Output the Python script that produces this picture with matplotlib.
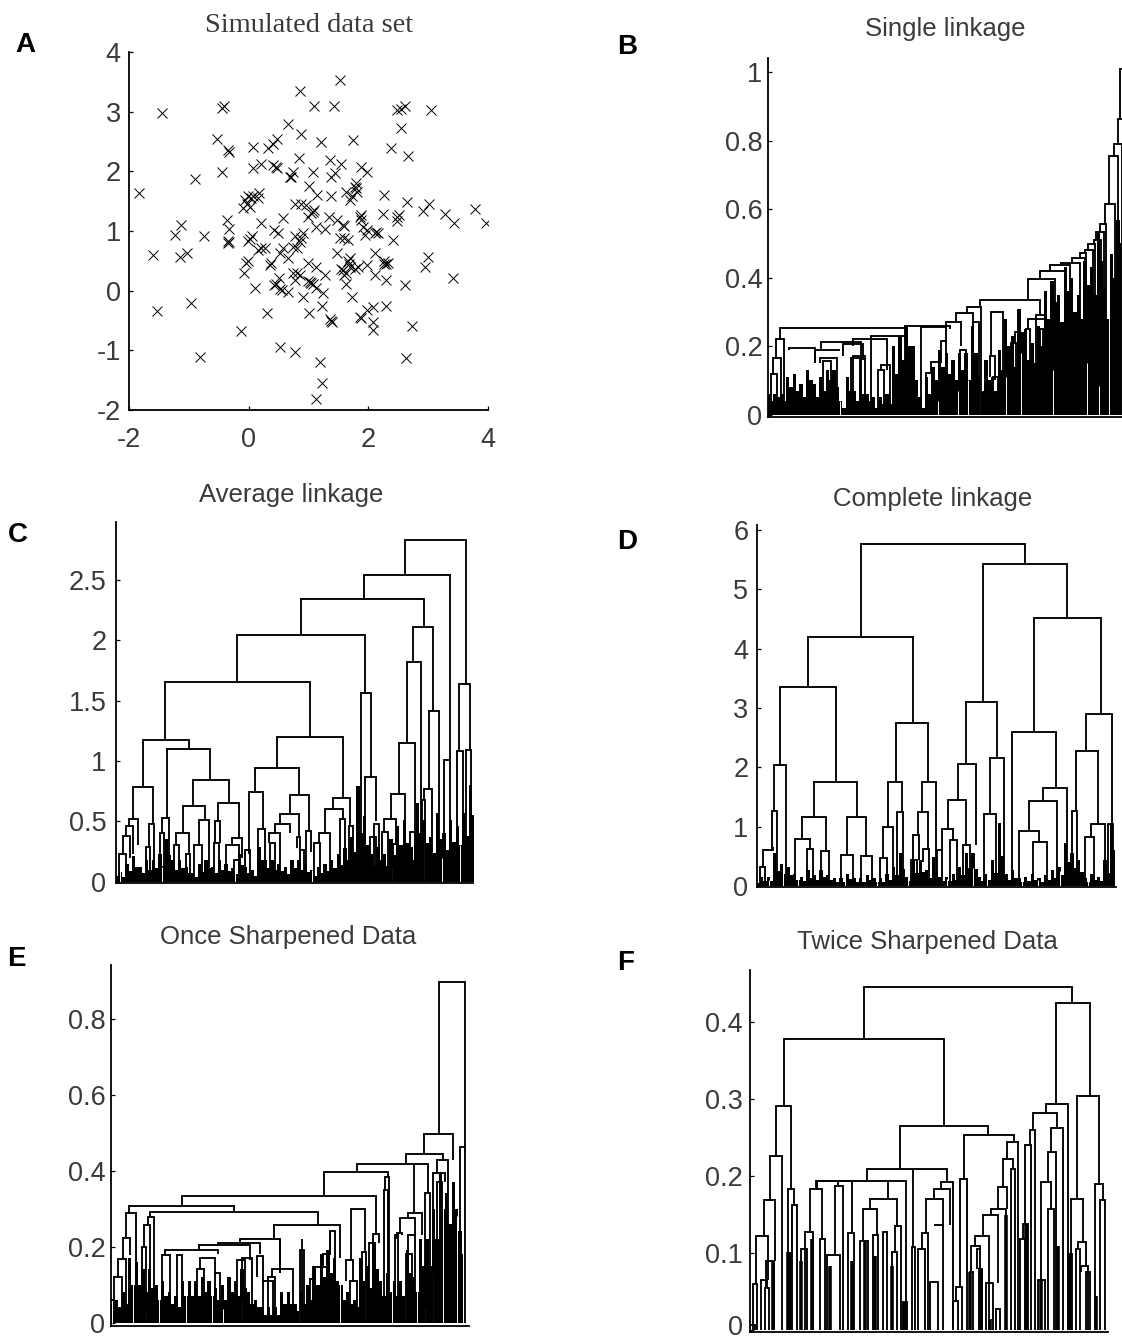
import numpy as np
import matplotlib
matplotlib.use("Agg")
import matplotlib.pyplot as plt
from matplotlib.transforms import ScaledTranslation

plt.rcParams['font.family'] = ['Liberation Sans', 'DejaVu Sans']
W, H = 1122, 1339

# ---------- Panel A : simulated data ----------
pts_x = [-1.83,-1.45,-1.60,-1.54,-1.23,-1.13,-1.14,-1.03,-0.75,-0.97,-0.89,-0.81,-0.53,-0.45,-0.44,-0.42,-0.35,-0.33,-0.36,-0.33,
 -0.35,-0.33,-0.34,-0.13,-0.07,-0.01,-0.04,-0.09,-0.06,-0.01,0.04,-0.03,0.02,0.08,0.17,0.16,0.07,0.08,0.21,0.21,
 0.02,0.06,-0.01,0.10,0.16,0.21,0.27,0.30,0.32,0.40,0.48,0.41,0.45,0.47,0.35,0.38,0.43,0.49,0.57,0.43,
 0.50,0.46,0.55,0.53,0.66,0.53,0.77,0.66,0.88,0.85,0.84,0.74,0.69,0.71,0.77,0.88,0.52,0.57,0.66,0.74,
 0.80,0.85,0.91,0.77,0.88,0.74,0.80,0.85,0.77,0.91,1.00,1.09,1.08,1.01,1.14,0.96,1.08,1.10,1.05,0.99,
 1.13,1.27,0.99,1.13,1.02,1.05,0.99,1.08,1.13,1.25,1.28,1.23,1.38,1.36,1.40,1.19,1.23,1.13,1.21,1.42,
 1.52,1.36,1.38,1.45,1.38,1.55,1.75,1.62,1.69,1.72,1.80,1.77,1.80,1.81,1.35,1.48,1.58,1.59,1.52,1.66,
 1.60,1.47,1.55,1.66,1.69,1.68,1.69,1.58,1.63,1.77,1.63,1.60,1.72,1.83,1.97,1.86,1.88,1.88,1.97,1.86,
 1.88,1.87,1.91,1.97,1.94,2.16,2.13,2.11,2.11,2.11,2.07,1.97,2.08,2.08,2.27,2.25,2.41,2.27,2.30,2.26,
 2.33,2.30,2.30,2.38,2.48,2.55,2.62,2.55,2.66,2.48,2.51,2.48,2.65,2.61,2.73,2.63,2.91,3.01,3.05,2.94,
 3.00,3.28,3.43,3.41,3.78,3.96]
pts_y = [1.64,2.97,0.60,-0.34,0.93,1.10,0.57,0.63,0.92,-0.21,1.87,-1.11,2.54,1.99,3.06,3.10,2.35,2.33,1.18,1.03,
 0.83,0.82,0.80,-0.68,0.29,0.49,0.46,1.38,1.52,1.58,1.55,1.46,1.41,1.59,1.63,1.55,2.40,2.06,2.13,1.14,
 0.86,0.91,0.84,0.04,0.68,0.71,0.71,-0.38,2.39,2.46,2.55,2.11,2.08,2.05,0.43,0.47,1.02,0.97,1.21,0.09,
 0.21,0.11,0.01,0.02,-0.02,-0.94,-1.02,2.79,2.62,3.34,2.23,1.99,1.91,1.90,1.46,1.46,0.63,0.71,0.54,0.74,
 0.71,0.82,0.97,0.91,0.88,0.29,0.29,0.26,0.18,-0.11,-0.38,3.09,1.99,1.76,1.61,1.44,1.32,1.35,1.30,1.24,
 1.07,1.04,0.46,0.40,0.15,0.13,0.17,0.12,0.04,-0.04,0.26,-0.25,-0.50,-0.48,-0.52,-1.19,-1.55,-1.82,2.49,3.09,
 3.53,2.19,1.91,1.98,1.59,2.12,2.53,1.66,1.52,1.58,1.80,1.74,1.72,1.66,1.24,1.18,1.10,1.08,0.88,0.85,
 0.88,0.63,0.37,0.49,0.54,0.45,0.40,0.35,0.29,0.37,0.12,0.26,-0.11,0.40,0.43,-0.44,-0.45,2.08,1.99,1.24,
 1.27,1.18,1.07,1.02,0.93,0.96,0.99,0.96,0.63,0.26,-0.27,-0.32,-0.52,-0.66,1.60,1.28,0.85,0.49,0.45,0.45,
 0.46,0.18,-0.25,2.39,3.03,3.05,3.09,2.72,2.25,1.24,1.27,1.16,1.48,0.09,-0.59,-1.13,1.34,1.45,3.02,0.40,
 0.57,1.28,1.14,0.21,1.37,1.14]

# ---------- Panel B : single linkage ----------
b_xl = [1112,1105,1093,1078,1065,1052,1040,1033,1015,1005,990,967,935,900,870,835,690,653,620,588,465,90,80,70,65,
        365,310,215,118,195,210,220,280,310,305,395,385,515,545,530,575,725,720,730,760,785,795,835,858,830,870,858,670,630]
b_xr = [1130,1130,1118,1105,1095,1070,1062,1055,1035,1030,1010,1005,990,960,945,915,870,695,670,635,600,465,103,93,82,
        465,412,335,195,272,262,245,340,345,330,420,402,590,570,550,590,760,737,745,770,800,810,890,885,840,880,868,688,650]
b_h  = [1.01,.865,.79,.757,.615,.556,.534,.51,.498,.48,.473,.459,.443,.437,.42,.396,.336,.315,.297,.27,.26,.253,.222,.164,.12,
        .231,.222,.212,.196,.19,.166,.158,.205,.17,.166,.146,.13,.256,.155,.122,.215,.30,.17,.11,.183,.21,.24,.278,.29,.25,.25,.20,.27,.19]
b_yl = [.865,.79,.757,.615,.556,.534,.51,.498,.48,.473,.459,.443,.437,.42,.396,.336,.315,.297,.27,.26,.253,.222,.164,.12,.06,
        .15,.20,.19,.19,.15,.15,.10,.17,.12,.10,.13,.07,.15,.122,.08,.15,.17,.11,.07,.12,.12,.21,.25,.20,.10,.10,.08,.20,.12]
b_yr = [.60,.50,.50,.40,.35,.40,.40,.30,.40,.30,.35,.30,.30,.25,.30,.30,.29,.25,.25,.20,.25,.222,.10,.06,.07,
        .20,.13,.14,.15,.19,.13,.12,.16,.10,.12,.08,.10,.21,.12,.08,.20,.18,.10,.08,.12,.18,.12,.20,.25,.15,.18,.10,.12,.10]
b_mass = [.06,.06,.06,.11,.12,.09,.13,.09,.11,.13,.13,.04,.11,.07,.10,.06,.05,.05,.06,.20,.23,.26,.20,.05,.11,.14,.19,.18,.16,.18,
          .18,.26,.11,.16,.11,.19,.28,.23,.31,.25,.21,.26,.36,.39,.35,.43,.40,.35,.45,.43,.53,.37,.47,.57]
b_low = [.04,.05,.04,.08,.07,.05,.10,.05,.07,.10,.08,.02,.07,.04,.06,.04,.02,.03,.03,.12,.16,.20,.10,.02,.06,.10,.14,.12,.10,.13,
         .10,.18,.07,.10,.07,.13,.20,.14,.24,.16,.15,.20,.28,.33,.27,.36,.30,.28,.38,.35,.45,.28,.40,.50]
b_slit_x = [270,565,625,655,690,770,815,910,1013,1048,1078]
b_slit_y = [.04,.04,.07,.10,.16,.11,.18,.13,.15,.085,.37]

# ---------- Panel C : average linkage ----------
c_xl = [915,790,603,410,195,128,200,97,278,247,353,530,463,445,570,540,697,675,783,793,938,920,897,872,985,972,1075,1070,1098,1032,
        85,78,67,55,145,137,185,180,228,222,258,282,295,345,342,378,395,400,435,472,505,510,525,590,617,600,655,642,720,745,820,810,852,845,878,928,965]
c_xr = [1097,1048,970,795,628,266,330,157,385,315,415,728,595,488,625,595,750,728,812,828,998,963,943,913,1015,995,1108,1088,1112,1050,
        113,97,90,78,160,150,205,192,265,235,270,305,325,360,355,415,425,415,450,493,540,525,570,600,632,612,690,660,735,758,835,828,888,862,890,945,975]
c_h  = [2.83,2.54,2.34,2.04,1.65,1.17,1.10,.78,.84,.63,.65,1.20,.94,.74,.72,.56,.69,.60,1.56,.87,2.11,1.82,1.15,.73,1.41,.77,1.64,1.08,1.09,1.01,
        .52,.46,.38,.23,.48,.29,.53,.40,.40,.30,.23,.30,.51,.50,.32,.30,.36,.18,.26,.44,.40,.32,.48,.37,.42,.26,.40,.32,.52,.46,.48,.37,.52,.41,.31,.41,.68]
c_yl = [2.54,2.34,2.04,1.65,1.17,.78,.53,.52,.63,.40,.50,.94,.74,.23,.56,.48,.60,.40,.79,.30,1.82,1.15,.73,.52,.77,.68,1.08,.46,.57,.57,
        .46,.38,.23,.15,.29,.12,.41,.15,.30,.15,.12,.10,.30,.32,.22,.12,.30,.08,.10,.30,.32,.15,.40,.28,.15,.12,.32,.10,.10,.15,.28,.25,.41,.10,.10,.18,.30]
c_yr = [1.64,1.01,2.11,1.56,1.20,1.10,.84,.48,.65,.51,.36,.69,.72,.44,.43,.36,.46,.52,.87,.50,1.41,.30,.86,.65,.57,.50,1.09,.58,.80,.54,
        .30,.23,.20,.12,.25,.20,.20,.25,.23,.12,.10,.15,.15,.32,.15,.15,.20,.05,.19,.20,.25,.20,.40,.12,.25,.15,.15,.15,.30,.30,.30,.15,.30,.20,.18,.25,.40]
c_mass = [.08,.08,.15,.21,.12,.18,.18,.23,.35,.18,.18,.12,.07,.15,.18,.12,.18,.15,.11,.23,.12,.10,.29,.18,.18,.15,.12,.18,.18,.15,
          .10,.12,.15,.18,.23,.28,.37,.79,.54,.23,.29,.23,.35,.46,.51,.29,.65,.51,.37,.57,.40,.51,.46,.57,.80]
c_low = [.05,.04,.09,.12,.07,.10,.11,.13,.22,.10,.11,.07,.04,.08,.11,.07,.10,.09,.06,.14,.07,.05,.18,.11,.10,.09,.06,.11,.10,.08,
         .05,.07,.09,.11,.14,.18,.25,.40,.30,.14,.18,.13,.22,.30,.32,.18,.40,.32,.24,.35,.26,.33,.30,.38,.55]
c_slit_x = [60,135,185,280,405,595,635,875,970,1025,1078]
c_slit_y = [.10,.12,.12,.10,.12,.10,.10,.12,.35,.20,.30]

# ---------- Panel D : complete linkage ----------
d_xl = [363,728,205,120,102,95,222,185,322,165,243,303,362,468,443,545,430,472,533,520,550,678,653,623,605,630,750,732,882,815,910,868,838,880,1038,1008,995,1053,1035,1105,668,70,60,200,592,513,420]
d_xr = [855,980,518,288,137,112,352,257,377,210,268,340,395,563,485,587,460,490,563,538,568,770,708,677,640,652,792,768,1082,948,982,950,898,920,1115,1073,1012,1095,1062,1118,690,100,75,218,606,530,442]
d_h  = [5.76,5.42,4.19,3.35,2.04,1.26,1.76,1.17,1.16,.79,.59,.52,.51,2.74,1.76,1.75,.99,1.25,1.25,.86,.63,3.10,2.06,1.45,.97,.78,2.15,1.21,4.51,2.59,1.65,1.44,.93,.74,2.89,2.28,1.27,1.04,.83,1.04,.69,.60,.33,.63,.61,.44,.48]
d_yl = [4.19,3.10,3.35,2.04,1.26,.63,1.17,.79,.52,.33,.27,.45,.30,1.76,.99,1.25,.48,.33,.86,.44,.40,2.06,1.45,.97,.61,.38,1.21,.41,2.59,1.04,1.44,.93,.27,.47,2.28,1.27,.66,.83,.44,.55,.30,.33,.15,.35,.20,.15,.20]
d_yr = [5.42,4.51,2.74,1.76,.89,.30,1.16,.59,.51,.63,.35,.25,.30,1.75,1.25,.38,.33,.63,.61,.44,.45,2.15,.69,.69,.78,.27,.75,.75,2.89,1.65,.38,.60,.74,.30,1.04,1.04,.55,.44,.27,.55,.35,.66,.15,.30,.25,.20,.20]
d_mass = [.10,.16,.16,.55,.38,.33,.21,.16,.27,.19,.27,.19,.13,.13,.21,.13,.13,.19,.13,.13,.21,.33,.55,.16,.44,.44,.27,.49,.16,.16,
          .21,.33,.55,.55,.16,.21,.44,1.06,.21,.27,.13,.16,.21,.13,.19,.27,.33,.72,.55,.44,.13,.21,.16,.44,1.06]
d_low = [.06,.09,.09,.25,.20,.18,.11,.08,.14,.10,.15,.10,.07,.07,.12,.07,.07,.10,.07,.07,.11,.18,.28,.08,.22,.24,.14,.26,.08,.08,
         .11,.18,.30,.28,.08,.11,.22,.50,.11,.14,.07,.08,.11,.07,.10,.14,.18,.40,.30,.24,.07,.11,.08,.22,.60]
d_slit_x = [88,130,175,315,410,505,620,700,740,845,895,960,1045]
d_slit_y = [.10,.25,.12,.12,.10,.20,.12,.30,.25,.12,.10,.25,.15]

# ---------- Panel E : once sharpened ----------
e_xl = [1016,972,918,770,673,245,752,88,78,68,53,42,30,150,145,133,125,522,420,355,298,195,185,232,300,290,345,410,425,472,515,505,490,600,630,640,670,690,737,750,785,820,808,855,852,925,900,890,885,925,918,975,1012,1000,1010,1080]
e_xr = [1095,1058,1028,985,865,828,795,403,108,90,77,65,42,655,162,150,138,720,540,480,450,355,210,245,345,312,360,435,455,490,580,525,520,612,640,680,690,705,760,770,797,838,825,868,865,965,945,905,895,945,935,990,1045,1035,1025,1095]
e_h  = [.895,.496,.444,.418,.397,.332,.30,.308,.288,.222,.168,.121,.06,.292,.277,.257,.20,.257,.219,.209,.203,.191,.178,.178,.17,.14,.13,.165,.17,.175,.14,.12,.11,.19,.115,.145,.18,.24,.165,.11,.185,.232,.21,.384,.35,.288,.275,.235,.23,.23,.18,.34,.428,.393,.37,.463]
e_yl = [.496,.444,.418,.397,.332,.308,.165,.288,.222,.168,.121,.06,0,.277,.257,.20,.11,.219,.209,.203,.191,.178,.11,.10,.14,.09,.09,.12,.12,.12,.12,.08,.06,.02,.08,.10,.145,.18,.11,.08,.14,.20,.17,.35,.14,.275,.235,.22,.14,.18,.15,.15,.393,.24,.28,.37]
e_yr = [.463,.428,.428,.34,.384,.232,.185,.292,.178,.178,.09,.09,0,.257,.14,.18,.17,.17,.13,.18,.165,.18,.11,.10,.13,.10,.10,.12,.12,.11,.12,.08,.05,.02,.08,.18,.24,.20,.11,.08,.14,.21,.15,.14,.21,.23,.23,.23,.14,.10,.10,.15,.35,.37,.20,.24]
e_stem_x = [943,605,540]
e_stem_top = [.418,.219,.219]
e_stem_bot = [.288,.02,.13]
e_mass = [.05,.06,.08,.17,.16,.14,.14,.10,.11,.08,.07,.11,.11,.11,.12,.11,.09,.10,.12,.11,.14,.08,.06,.04,.04,.04,.08,.08,.05,.08,
          .10,.15,.18,.19,.17,.10,.08,.06,.17,.15,.21,.11,.13,.11,.11,.19,.12,.22,.22,.30,.39,.34,.37,.24]
e_low = [.03,.04,.05,.10,.10,.08,.09,.06,.07,.05,.04,.07,.07,.07,.08,.07,.06,.06,.08,.07,.09,.05,.04,.02,.02,.02,.05,.05,.03,.05,
         .06,.10,.12,.13,.11,.06,.05,.04,.11,.09,.14,.07,.08,.07,.07,.13,.08,.15,.15,.22,.30,.26,.30,.18]
e_slit_x = [37,100,138,178,258,335,370,425,598,720,795,875,915,950,975,1000,1030,1072]
e_slit_y = [.06,.175,.03,.105,.17,.09,.035,.06,.04,.17,.17,.13,.07,.15,.04,.13,.38,.28]

# ---------- Panel F : twice sharpened ----------
f_xl = [373,948,132,108,90,72,47,38,62,75,78,143,155,480,672,382,228,230,210,195,183,240,285,260,325,390,370,360,400,430,455,465,490,603,582,557,545,535,585,570,515,660,650,640,802,790,775,755,730,705,695,712,690,718,740,770,815,855,870,880,918,935,925,905,895,925,850,840,1013,995,1065,1080,1015,1010,1025,1040,985,30]
f_xr = [998,1052,612,152,125,106,85,52,80,88,103,162,172,745,822,622,497,335,245,220,200,255,310,300,342,470,410,385,415,440,470,483,500,640,630,610,565,555,610,595,525,682,668,655,835,820,802,800,775,748,720,722,700,728,760,782,825,875,885,952,985,970,950,935,915,942,865,855,1078,1030,1090,1095,1040,1022,1045,1050,998,45]
f_h  = [.446,.425,.378,.291,.226,.169,.122,.060,.065,.055,.090,.184,.163,.265,.254,.210,.194,.194,.184,.127,.105,.119,.187,.098,.126,.170,.158,.116,.124,.127,.102,.135,.036,.193,.183,.170,.126,.105,.137,.063,.108,.196,.056,.038,.245,.223,.186,.157,.149,.123,.110,.105,.076,.079,.061,.027,.209,.240,.260,.282,.294,.263,.231,.193,.065,.158,.138,.118,.304,.171,.190,.169,.115,.105,.084,.076,.099,.007]
f_yl = [.378,.294,.291,.226,.169,.122,.060,0,0,0,.055,.101,0,.210,.196,.194,.184,.184,.127,.098,0,0,.098,.084,.090,.158,.116,0,.096,0,.083,.102,0,.183,.170,.126,.105,.059,.135,0,0,.056,.038,0,.223,.186,.157,.149,.123,.110,.076,.079,0,0,0,0,0,.138,.240,.260,.282,.231,.193,.065,0,0,.118,0,.171,.099,.045,0,.105,0,.076,0,0,0]
f_yr = [.425,.304,.265,.184,.153,.090,.065,0,.055,0,0,.163,0,.254,.245,.194,.036,.126,.119,0,0,0,.170,.065,0,.135,.124,0,0,0,0,0,0,0,.136,.137,0,0,0,0,0,0,0,0,0,.209,.157,0,.061,0,.105,.079,0,0,0,.010,0,0,0,.263,0,0,0,.158,0,0,0,0,.190,.115,.169,0,.084,0,0,0,0,0]
f_stem_x = [295,443,520]
f_stem_top = [.194,.194,.210]
f_stem_bot = [.187,.170,.108]
f_thick_x = [100,150,182,215,270,335,375,405,455,495,690,725,800,860,905,955,990,1070,750,145]
f_thick_h = [.090,.101,.090,.119,.084,.090,.115,.096,.083,.036,.076,.079,.150,.138,.065,.110,.099,.045,.015,.101]

A_TICKS = [-2, 0, 2, 4]
TICK_COLOR = '#3a3a3a'

def px_axes(x0, x1, y0, y1):
    return fig.add_axes([x0 / W, 1 - y1 / H, (x1 - x0) / W, (y1 - y0) / H])

def style(ax, yt, ylabels, fs=19.5, pad=5):
    for s in ('top', 'right'):
        ax.spines[s].set_visible(False)
    for s in ('left', 'bottom'):
        ax.spines[s].set_linewidth(1.3)
    ax.set_yticks(yt)
    ax.set_yticklabels(ylabels, fontsize=fs, color=TICK_COLOR)
    ax.tick_params(axis='y', direction='in', length=3, width=0.9, pad=pad)

def has_child(x, y, xl, xr, h, tol):
    for a, b, t in zip(xl, xr, h):
        if abs(t - y) <= tol and a - 25 <= x <= b + 25:
            return True
    return False

def dendro(ax, xl, xr, h, yl, yr, mass=None, low=None, mass_span=None, slit_x=(), slit_y=(), lw=1.35):
    if mass is not None:
        # alternating spike tops and valleys of the dense lower part
        tops = np.ravel(np.column_stack([mass, low]))
        xs = np.linspace(mass_span[0], mass_span[1], len(tops))
        ax.fill_between(xs, 0, tops, step='mid', color='black', lw=0)
        ax.vlines(slit_x, 0.0, slit_y, color='white', lw=0.7)
    tol = max(h) * 0.012
    for a, b, t, l, r in zip(xl, xr, h, yl, yr, strict=True):
        # a stem that meets no lower link runs down to the leaves
        l2 = l if has_child(a, l, xl, xr, h, tol) else 0
        r2 = r if has_child(b, r, xl, xr, h, tol) else 0
        ax.plot([a, a, b, b], [l2, t, t, r2], color='black', lw=lw,
                solid_joinstyle='miter', solid_capstyle='butt')
    ax.set_xticks([])

fig = plt.figure(figsize=(W / 100, H / 100), dpi=100, facecolor='white')

# A
ax = px_axes(129, 488, 52, 410)
ax.plot(pts_x, pts_y, linestyle='none', marker='x', color='black', ms=6.5, mew=0.7)
ax.set_xlim(-2, 4); ax.set_ylim(-2, 4)
style(ax, range(-2, 5), [str(v) for v in range(-2, 5)], pad=6)
ax.set_xticks(A_TICKS); ax.set_xticklabels([str(v) for v in A_TICKS], fontsize=19.5, color=TICK_COLOR)
ax.tick_params(axis='x', direction='in', length=3, width=0.9, pad=12)

# B
ax = px_axes(768, 1122, 58, 417)
dendro(ax, b_xl, b_xr, b_h, b_yl, b_yr, b_mass, b_low, (55, 1115), b_slit_x, b_slit_y)
ax.set_xlim(55, 1117); ax.set_ylim(-0.007, 1.042)
style(ax, [0, .2, .4, .6, .8, 1], ['0', '0.2', '0.4', '0.6', '0.8', '1'], pad=4)

# C
ax = px_axes(116, 473, 521.7, 882.7)
dendro(ax, c_xl, c_xr, c_h, c_yl, c_yr, c_mass, c_low, (40, 1120), c_slit_x, c_slit_y)
ax.set_xlim(47, 1118); ax.set_ylim(-0.008, 2.98)
style(ax, [0, .5, 1, 1.5, 2, 2.5], ['0', '0.5', '1', '1.5', '2', '2.5'], pad=7)

# D
ax = px_axes(756.7, 1116, 525, 887.3)
dendro(ax, d_xl, d_xr, d_h, d_yl, d_yr, d_mass, d_low, (45, 1125), d_slit_x, d_slit_y)
ax.set_xlim(50, 1128); ax.set_ylim(-0.02, 6.08)
style(ax, range(7), [str(v) for v in range(7)], pad=6)

# E
ax = px_axes(111, 469.3, 965, 1326)
dendro(ax, e_xl, e_xr, e_h, e_yl, e_yr, e_mass, e_low, (30, 1090), e_slit_x, e_slit_y)
ax.vlines(e_stem_x, e_stem_bot, e_stem_top, color='black', lw=1.35)
ax.set_xlim(33, 1108); ax.set_ylim(-0.009, 0.941)
style(ax, [0, .2, .4, .6, .8], ['0', '0.2', '0.4', '0.6', '0.8'], pad=4)

# F
ax = px_axes(750, 1108, 970, 1331.7)
ax.vlines(f_thick_x, 0, f_thick_h, color='black', lw=2.6)
dendro(ax, f_xl, f_xr, f_h, f_yl, f_yr)
ax.vlines(f_stem_x, f_stem_bot, f_stem_top, color='black', lw=1.35)
ax.set_xlim(30, 1105); ax.set_ylim(-0.002, 0.468)
style(ax, [0, .1, .2, .3, .4], ['0', '0.1', '0.2', '0.3', '0.4'], pad=5)
zero = ax.get_yticklabels()[0]
zero.set_transform(zero.get_transform() + ScaledTranslation(0, 0.05, fig.dpi_scale_trans))

# Titles and panel letters
titles = ["Simulated data set", "Single linkage", "Average linkage", "Complete linkage",
          "Once Sharpened Data", "Twice Sharpened Data"]
title_pos = [(309, 26), (945, 29), (291, 495), (933, 499), (288, 937), (927, 942)]
title_font = ['Liberation Serif', 'Liberation Sans', 'Liberation Sans', 'Liberation Sans', 'Liberation Sans', 'Liberation Sans']
title_size = [20.5, 18.5, 18.5, 18.5, 18.5, 18.5]
for t, (x, y), fam, fs in zip(titles, title_pos, title_font, title_size):
    fig.text(x / W, 1 - y / H, t, ha='center', va='center', fontsize=fs, family=fam, color='#3a3a3a')
letters = ["A", "B", "C", "D", "E", "F"]
letter_pos = [(25, 45), (627, 47), (18, 535), (627, 542), (16, 959), (626, 963)]
for t, (x, y) in zip(letters, letter_pos):
    fig.text(x / W, 1 - y / H, t, ha='center', va='center', fontsize=20, fontweight='bold', color='black')

fig.savefig('out.png', dpi=100, facecolor='white')
